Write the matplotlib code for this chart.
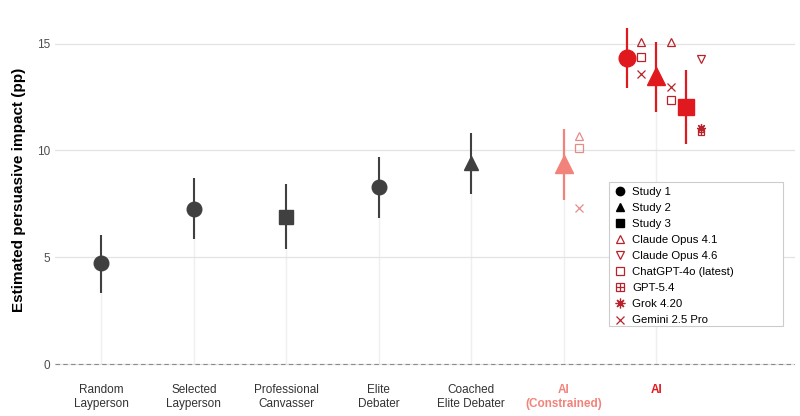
import numpy as np
import matplotlib
matplotlib.use("Agg")
from matplotlib import pyplot as plt
from matplotlib.lines import Line2D
from matplotlib.patches import Rectangle

plt.rcParams['font.family'] = ['Liberation Sans', 'DejaVu Sans']

# categories on the x axis
categories = ["Random\nLayperson", "Selected\nLayperson", "Professional\nCanvasser",
              "Elite\nDebater", "Coached\nElite Debater", "AI\n(Constrained)", "AI"]

# human benchmarks: estimate, lower, upper, study
human_est = [4.71, 7.28, 6.88, 8.29, 9.43]
human_lo = [3.33, 5.87, 5.37, 6.84, 7.98]
human_hi = [6.06, 8.71, 8.44, 9.69, 10.83]
human_study = ["Study 1", "Study 1", "Study 3", "Study 1", "Study 2"]

# AI (constrained), study 2
con_est = [9.38]
con_lo = [7.66]
con_hi = [11.01]
con_study = ["Study 2"]
con_models = ["Claude Opus 4.1", "ChatGPT-4o (latest)", "Gemini 2.5 Pro"]
con_model_vals = [10.67, 10.11, 7.32]

# AI, studies 1-3
ai_study = ["Study 1", "Study 2", "Study 3"]
ai_est = [14.31, 13.50, 12.02]
ai_lo = [12.91, 11.79, 10.31]
ai_hi = [15.76, 15.09, 13.77]
ai_models = [
    ["Claude Opus 4.1", "ChatGPT-4o (latest)", "Gemini 2.5 Pro"],
    ["Claude Opus 4.1", "Gemini 2.5 Pro", "ChatGPT-4o (latest)"],
    ["Claude Opus 4.6", "Grok 4.20", "GPT-5.4"],
]
ai_model_vals = [
    [15.09, 14.38, 13.58],
    [15.09, 12.99, 12.35],
    [14.28, 11.05, 10.85],
]

study_marker = {"Study 1": "o", "Study 2": "^", "Study 3": "s"}
model_marker = {
    "Claude Opus 4.1": "^",
    "Claude Opus 4.6": "v",
    "ChatGPT-4o (latest)": "s",
    "GPT-5.4": "boxplus",
    "Grok 4.20": (8, 2, 0),
    "Gemini 2.5 Pro": "x",
}

GREY = "#404040"
RED = "#E0191E"
SALMON = "#F2837B"
DARKRED = "#B8232B"
LIGHTRED = "#E58C8A"


def model_handles(name, color, ms=5.5):
    m = model_marker[name]
    if m == "boxplus":
        return [Line2D([], [], marker="s", ms=ms - 0.5, mfc="none", mec=color, mew=0.9, ls="none"),
                Line2D([], [], marker="+", ms=ms - 0.5, mec=color, mew=0.9, ls="none")]
    size = ms + 1 if m == (8, 2, 0) else ms
    return [Line2D([], [], marker=m, ms=size, mfc="none", mec=color, mew=0.9, ls="none")]


def draw_model(ax, x, y, name, color):
    for h in model_handles(name, color):
        ax.plot(x, y, marker=h.get_marker(), ms=h.get_markersize(), mfc="none",
                mec=color, mew=0.9, ls="none", zorder=4)


fig = plt.figure(figsize=(8, 4.16), dpi=100)
ax = fig.add_axes([55 / 800, 46 / 416, 740 / 800, 360 / 416])

xs = np.arange(len(categories))

# faint stems from zero
stem_x = list(xs[:5]) + [xs[5], xs[6]]
stem_y = human_est + con_est + [ai_est[1]]
ax.vlines(stem_x, 0, stem_y, color="#EFEFEF", lw=1, zorder=0)

ax.axhline(0, color="#8A8A8A", lw=0.8, ls=(0, (4, 3)), zorder=1)

# human benchmarks
for i in range(len(human_est)):
    ax.vlines(xs[i], human_lo[i], human_hi[i], color=GREY, lw=1.5, zorder=2)
    ax.plot(xs[i], human_est[i], marker=study_marker[human_study[i]], ms=10.5,
            color=GREY, ls="none", zorder=3)

# AI constrained
xc = xs[5]
ax.vlines(xc, con_lo[0], con_hi[0], color=SALMON, lw=1.6, zorder=2)
ax.plot(xc, con_est[0], marker=study_marker[con_study[0]], ms=13, color=SALMON,
        ls="none", zorder=3)
for name, v in zip(con_models, con_model_vals):
    draw_model(ax, xc + 0.16, v, name, LIGHTRED)

# AI
offsets = [-0.32, 0.0, 0.32]
for j in range(3):
    x = xs[6] + offsets[j]
    ax.vlines(x, ai_lo[j], ai_hi[j], color=RED, lw=1.6, zorder=2)
    ax.plot(x, ai_est[j], marker=study_marker[ai_study[j]], ms=13 if j == 1 else 12,
            color=RED, ls="none", zorder=3)
    for name, v in zip(ai_models[j], ai_model_vals[j]):
        draw_model(ax, x + 0.16, v, name, DARKRED)

ax.set_xlim(-0.5, 7.5)
ax.set_ylim(-0.28, 16.58)
ax.set_yticks([0, 5, 10, 15])
ax.grid(axis="y", color="#E3E3E3", lw=0.9)
ax.set_axisbelow(True)
for s in ax.spines.values():
    s.set_visible(False)
ax.tick_params(length=0, labelsize=8.5, labelcolor="#4D4D4D")
ax.tick_params(axis="x", pad=10)
ax.set_xticks(xs)
ax.set_xticklabels(categories, fontsize=8.5, color="#333333")
for lab in ax.get_xticklabels()[5:]:
    lab.set_fontweight("bold")
    lab.set_color(SALMON if "Constrained" in lab.get_text() else RED)
ax.set_ylabel("Estimated persuasive impact (pp)", fontsize=11, fontweight="bold", labelpad=8)

# legend (frame drawn separately so it can be wider than the entries)
ax.add_patch(Rectangle((0.7486, 0.122), 0.2352, 0.400, transform=ax.transAxes,
                       facecolor="white", edgecolor="#CCCCCC", lw=0.8, zorder=5))
handles = [Line2D([], [], marker=study_marker[s], color="black", ms=6, ls="none")
           for s in ["Study 1", "Study 2", "Study 3"]]
labels = ["Study 1", "Study 2", "Study 3"]
for name in ["Claude Opus 4.1", "Claude Opus 4.6", "ChatGPT-4o (latest)",
             "GPT-5.4", "Grok 4.20", "Gemini 2.5 Pro"]:
    hs = model_handles(name, DARKRED, ms=6)
    handles.append(tuple(hs) if len(hs) > 1 else hs[0])
    labels.append(name)
leg = ax.legend(handles, labels, loc="upper left", bbox_to_anchor=(0.7486, 0.522),
                fontsize=8.2, frameon=False, handlelength=1.0, handletextpad=0.6,
                labelspacing=0.53, borderpad=0.45, borderaxespad=0.0)
leg.set_zorder(6)

fig.savefig("out.png", dpi=100, facecolor="white")
